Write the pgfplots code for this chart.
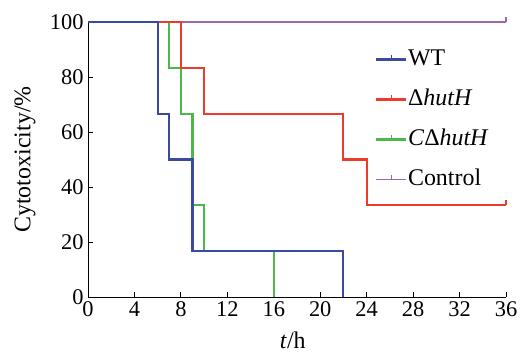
\documentclass[border=0pt]{standalone}
\usepackage{fontspec}
\setmainfont{Liberation Serif}
\usepackage{pgfplots}
\pgfplotsset{compat=1.18}
\definecolor{cwt}{HTML}{3A4A9F}
\definecolor{cdel}{HTML}{EE3A2C}
\definecolor{ccomp}{HTML}{4CB84A}
\definecolor{cctrl}{HTML}{9C66B8}
\pgfdeclareplotmark{censor}{\pgfpathmoveto{\pgfpoint{0pt}{0pt}}\pgfpathlineto{\pgfpoint{0pt}{5bp}}\pgfusepathqstroke}
\begin{document}
\begin{tikzpicture}
\begin{axis}[
  scale only axis,
  width=418bp, height=275bp,
  xmin=0, xmax=36, ymin=0, ymax=100,
  axis x line*=bottom, axis y line*=left,
  axis line style={line width=0.9pt, black, -},
  xtick={0,4,...,36}, ytick={0,20,...,100},
  tick align=inside,
  major tick length=5bp,
  tick style={line width=0.9pt, black},
  /pgf/number format/assume math mode=true,
  tick label style={font=\fontsize{22.5}{26}\selectfont},
  yticklabel style={xshift=-1bp},
  xticklabel style={yshift=-1bp},
  xlabel={\textit{t}/h},
  ylabel={Cytotoxicity/\%},
  label style={font=\fontsize{24}{28}\selectfont},
  xlabel style={at={(axis description cs:0.49,-0.156)}, anchor=center},
  ylabel style={at={(axis description cs:-0.151,0.5)}, anchor=center},
  legend style={at={(axis cs:24.7,90.8)}, anchor=north west, draw=none, fill=none,
    inner sep=0pt, row sep=16bp, font=\fontsize{24}{28}\selectfont,
    nodes={text height=17bp, text depth=5bp, inner sep=1bp}},
  legend cell align=left,
  reverse legend,
  legend image code/.code={
    \draw[#1, mark=none] (0bp,0bp) -- (30bp,0bp);
    \draw[#1, mark=none, line width=1pt] (15bp,0bp) -- (15bp,5bp);
  },
  every axis plot/.append style={line width=2.1pt},
  clip=false,
]
\addplot[cctrl, const plot, line width=1.8pt, mark=censor, mark indices={2}, mark options={line width=1.2pt}] coordinates {(0,100) (36,100)};
\addplot[ccomp, const plot, line width=2.1pt] coordinates {(0,100) (7,83.3) (8,66.7) (9,33.3) (10,16.7) (16,0)};
\addplot[cdel, const plot, line width=2.1pt, mark=censor, mark indices={6}, mark options={line width=1.2pt}] coordinates {(0,100) (8,83.3) (10,66.7) (22,50) (24,33.3) (36,33.3)};
\addplot[cwt, const plot, line width=2.1pt] coordinates {(0,100) (6,66.7) (7,50) (9,16.7) (22,0)};
\legend{Control, \textit{C}Δ\textit{hutH}, Δ\textit{hutH}, WT}
\path (rel axis cs:0,0) ++(-88bp,-59bp) coordinate (bl);
\path (rel axis cs:1,1) ++(15bp,22bp) coordinate (tr);
\end{axis}
\path (bl) rectangle (tr);
\end{tikzpicture}
\end{document}
